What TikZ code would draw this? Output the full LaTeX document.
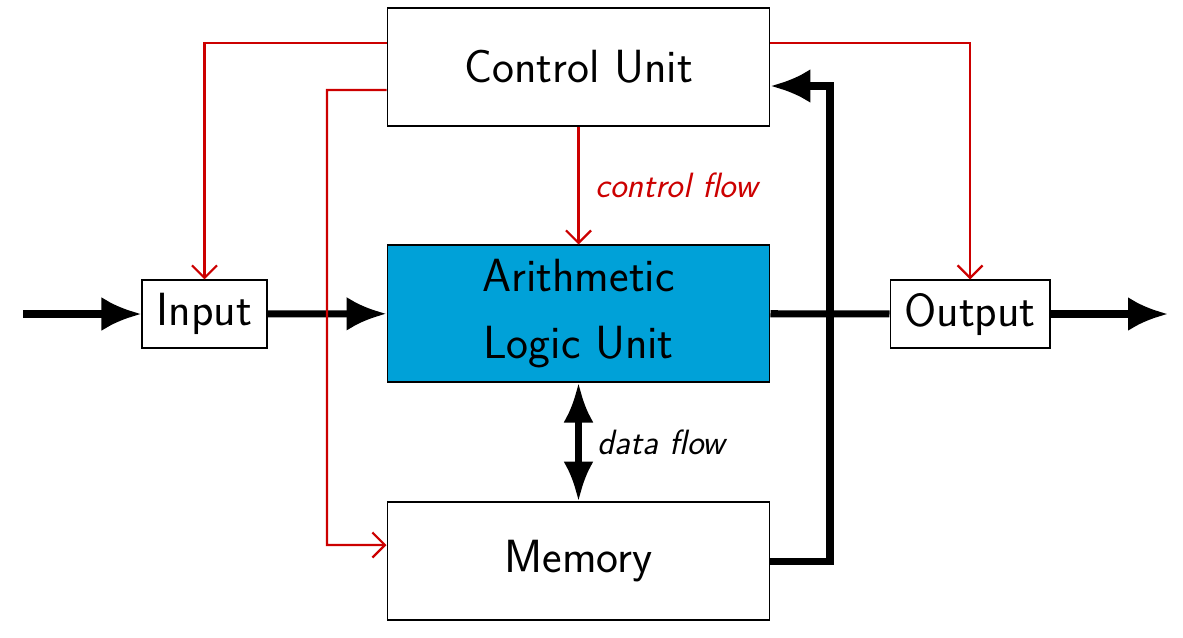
\documentclass[tikz,border=0pt]{standalone}
\usepackage{tikz}
\usetikzlibrary{arrows.meta, positioning, calc}
\definecolor{alublue}{RGB}{0,161,216}
\definecolor{ctrlred}{RGB}{204,0,0}

\begin{document}
\begin{tikzpicture}[x=0.02cm, y=-0.02cm,
    unit/.style={draw=black, semithick, minimum width=7.66cm, font=\sffamily\fontsize{26.5}{38}\selectfont, align=center, inner sep=0pt},
    io/.style={draw=black, semithick, minimum height=1.36cm, font=\sffamily\fontsize{26.5}{30}\selectfont, inner sep=0pt},
    dataline/.style={line width=4pt, -{Latex[length=0.8cm, width=0.68cm]}},
    ctrlline/.style={ctrlred, line width=1.3pt, -{Straight Barb[length=0.25cm, width=0.5cm]}},
    flowlabel/.style={font=\sffamily\itshape\fontsize{20}{24}\selectfont, anchor=west}]
    \useasboundingbox (0,0) rectangle (1183,637);
    % main units
    \node[unit, minimum height=2.36cm] (cu) at (578.5,67) {Control Unit};
    \node[unit, minimum height=2.74cm, fill=alublue] (alu) at (578.5,313.5) {Arithmetic\\Logic Unit};
    \node[unit, minimum height=2.36cm] (mem) at (578.5,561) {Memory};
    \node[io, minimum width=2.5cm] (in) at (204.5,314) {Input};
    \node[io, minimum width=3.2cm] (out) at (970,314) {Output};
    % free ends and bends
    \coordinate (src) at (23,314);
    \coordinate (sink) at (1168,314);
    \coordinate (redbend) at (327,545);
    \coordinate (bus) at (830,0);
    \coordinate (fb) at ([yshift=-0.38cm]cu.east);
    % data paths
    \draw[dataline] (src) -- (in);
    \draw[dataline] (in) -- (alu);
    \draw[line width=4pt] (alu) -- (out);
    \draw[dataline] (out) -- (sink);
    \draw[dataline] (mem.east) -| (bus |- fb) -- (fb);
    \draw[line width=4pt, {Latex[length=0.8cm, width=0.6cm]}-{Latex[length=0.8cm, width=0.6cm]}] (alu) -- (mem)
        node[midway, flowlabel, xshift=0.2cm] {data flow};
    % control paths
    \draw[ctrlline] ([yshift=0.48cm]cu.west) -| (in.north);
    \draw[ctrlline] ([yshift=0.48cm]cu.east) -| (out.north);
    \draw[ctrlline] ([yshift=-0.46cm]cu.west) -| (redbend) -- ([yshift=0.32cm]mem.west);
    \draw[ctrlline] (cu) -- (alu)
        node[midway, flowlabel, text=ctrlred, xshift=0.2cm] {control flow};
\end{tikzpicture}
\end{document}
